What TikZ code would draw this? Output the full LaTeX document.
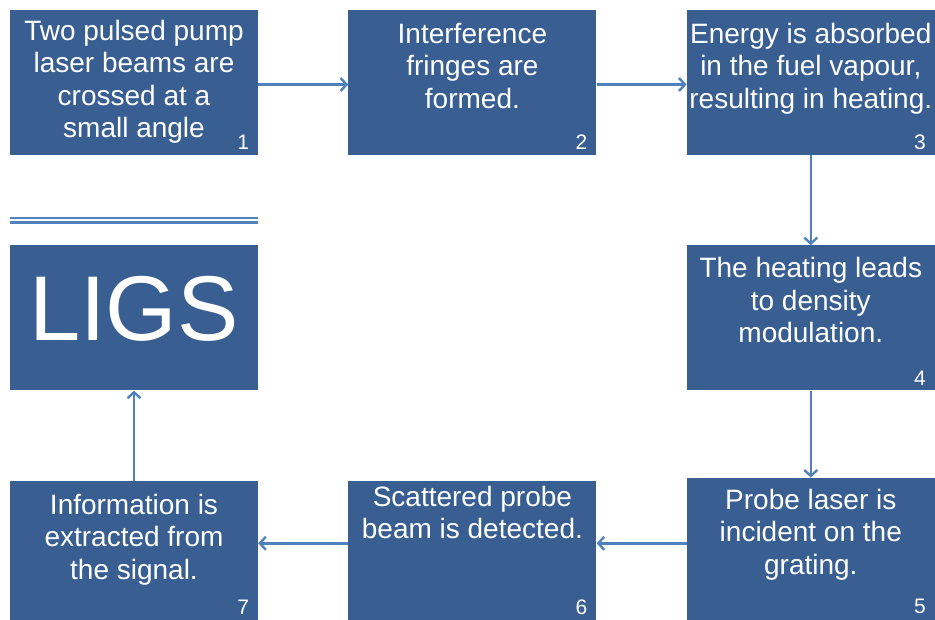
\documentclass[tikz,border=0pt]{standalone}
\usepackage{fontspec}
\setmainfont{Liberation Sans}
\usetikzlibrary{arrows.meta,positioning}
\definecolor{boxblue}{HTML}{395F92}
\definecolor{linkblue}{HTML}{4F81BD}
\tikzset{
  stepbox/.style={
    fill=boxblue,
    draw=none,
    minimum width=248pt,
    minimum height=145pt,
    inner sep=0pt
  },
  steptext/.style={
    anchor=north,
    align=center,
    text=white,
    inner sep=0pt,
    font=\fontsize{28}{32.5}\selectfont
  },
  stepnum/.style={
    anchor=south east,
    text=white,
    inner sep=0pt,
    font=\fontsize{21}{24}\selectfont
  },
  titletext/.style={
    text=white,
    inner sep=0pt,
    font=\fontsize{92}{96}\selectfont
  },
  linkarrow/.style={
    draw=linkblue,
    line width=2.4pt,
    -{Straight Barb[length=6pt,width=13pt]}
  },
  ruleline/.style={
    draw=linkblue,
    double=white,
    line width=2.6pt,
    double distance=1.8pt
  }
}

\begin{document}
\begin{tikzpicture}[node distance=90pt and 90pt]
  \useasboundingbox (0pt,0pt) rectangle (935pt,-620pt);

  % boxes
  \node[stepbox] (s1) at (134pt,-82.5pt) {};
  \node[stepbox, right=of s1] (s2) {};
  \node[stepbox, right=of s2] (s3) {};
  \node[stepbox, below=of s3] (s4) {};
  \node[stepbox, below=87pt of s4] (s5) {};
  \node[stepbox, left=of s5, yshift=-3pt] (s6) {};
  \node[stepbox, left=of s6] (s7) {};
  \node[stepbox, below=of s1] (ligs) {};

  % texts
  \node[steptext, below=10pt of s1.north] (t1) {Two pulsed pump\\laser beams are\\crossed at a\\small angle};
  \node[steptext, below=13pt of s2.north] (t2) {Interference\\fringes are\\formed.};
  \node[steptext, below=13pt of s3.north] (t3) {Energy is absorbed\\in the fuel vapour,\\resulting in heating.};
  \node[steptext, below=12pt of s4.north] (t4) {The heating leads\\to density\\modulation.};
  \node[steptext, below=11pt of s5.north] (t5) {Probe laser is\\incident on the\\grating.};
  \node[steptext, below=5pt of s6.north] (t6) {Scattered probe\\beam is detected.};
  \node[steptext, below=13pt of s7.north] (t7) {Information is\\extracted from\\the signal.};
  \node[titletext, yshift=9pt] (tligs) at (ligs.center) {LIGS};

  % numbers
  \foreach \n in {1,...,4}
    \node[stepnum] (n\n) at ([xshift=-9pt,yshift=5pt]s\n.south east) {\n};
  \node[stepnum] (n5) at ([xshift=-9pt,yshift=9pt]s5.south east) {5};
  \foreach \n in {6,7}
    \node[stepnum] (n\n) at ([xshift=-9pt,yshift=11pt]s\n.south east) {\n};

  % rule above the title box
  \coordinate (ruleL) at ([yshift=25pt]ligs.north west);
  \coordinate (ruleR) at ([yshift=25pt]ligs.north east);
  \draw[ruleline] (ruleL) -- (ruleR);

  % links
  \draw[linkarrow] ([yshift=-2pt]s1.east) -- ([yshift=-2pt]s2.west);
  \draw[linkarrow] ([yshift=-2pt]s2.east) -- ([yshift=-2pt]s3.west);
  \draw[linkarrow] (s3.south) -- (s4.north);
  \draw[linkarrow] (s4.south) -- (s5.north);
  \draw[linkarrow] ([yshift=7pt]s5.west) -- ([yshift=7pt]s5.west -| s6.east);
  \draw[linkarrow] ([yshift=10pt]s6.west) -- ([yshift=10pt]s6.west -| s7.east);
  \draw[linkarrow] (s7.north) -- (ligs.south);
\end{tikzpicture}
\end{document}
